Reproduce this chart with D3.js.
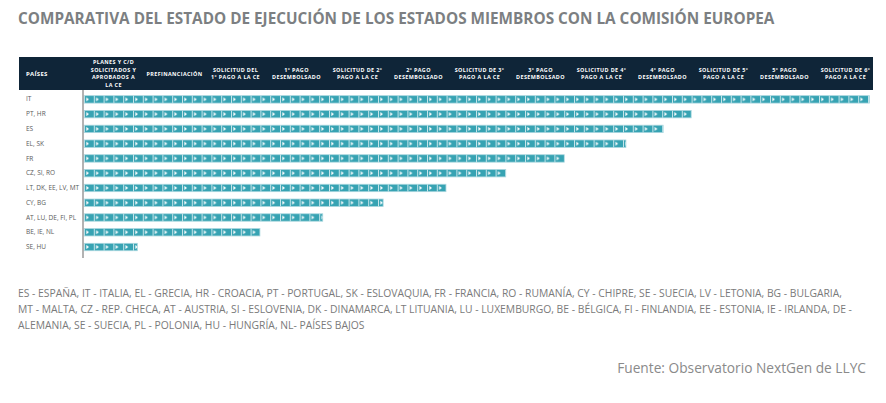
<!DOCTYPE html>
<html lang="es">
<head>
<meta charset="UTF-8">
<title>Comparativa estado de ejecución</title>
<script src="https://d3js.org/d3.v7.min.js"></script>
<style>
  body { margin: 0; background: #fff; }
  svg { display: block; font-family: "Open Sans", sans-serif; }
</style>
</head>
<body>
<script>
// Data
const countries = ["IT", "PT, HR", "ES", "EL, SK", "FR", "CZ, SI, RO", "LT, DK, EE, LV, MT",
                   "CY, BG", "AT, LU, DE, FI, PL", "BE, IE, NL", "SE, HU"];
// progress measured in stages (columns) reached
const progress = [12.89, 9.97, 9.51, 8.9, 7.89, 6.93, 5.95, 4.92, 3.93, 2.9, 0.89];
const stages = [
  ["PLANES Y C/D", "SOLICITADOS Y", "APROBADOS  A", "LA CE"],
  ["PREFINANCIACIÓN"],
  ["SOLICITUD DEL", "1º PAGO A LA CE"],
  ["1º PAGO", "DESEMBOLSADO"],
  ["SOLICITUD DE 2º", "PAGO A LA CE"],
  ["2º PAGO", "DESEMBOLSADO"],
  ["SOLICITUD DE 3º", "PAGO A LA CE"],
  ["3º PAGO", "DESEMBOLSADO"],
  ["SOLICITUD DE 4º", "PAGO A LA CE"],
  ["4º PAGO", "DESEMBOLSADO"],
  ["SOLICITUD DE 5º", "PAGO A LA CE"],
  ["5º PAGO", "DESEMBOLSADO"],
  ["SOLICITUD DE 6º", "PAGO A LA CE"]
];
const title = "COMPARATIVA DEL ESTADO DE EJECUCIÓN DE LOS ESTADOS MIEMBROS CON LA COMISIÓN EUROPEA";
const notes = [
  "ES - ESPAÑA, IT - ITALIA, EL - GRECIA, HR - CROACIA, PT - PORTUGAL, SK - ESLOVAQUIA, FR - FRANCIA, RO - RUMANÍA, CY - CHIPRE, SE - SUECIA, LV - LETONIA, BG - BULGARIA,",
  "MT - MALTA, CZ - REP. CHECA, AT - AUSTRIA, SI - ESLOVENIA, DK - DINAMARCA, LT LITUANIA, LU - LUXEMBURGO, BE - BÉLGICA, FI - FINLANDIA, EE - ESTONIA, IE - IRLANDA, DE -",
  "ALEMANIA, SE - SUECIA, PL - POLONIA, HU - HUNGRÍA, NL- PAÍSES BAJOS"
];
const source = "Fuente: Observatorio NextGen de LLYC";

const W = 886, H = 403;
const teal = "#37a3b3";

const svg = d3.select("body").append("svg")
    .attr("width", W)
    .attr("height", H);

// scales
const x = d3.scaleLinear().domain([0, stages.length]).range([83, 876]);
const y = d3.scaleBand().domain(countries).range([92, 254.4]);
const barH = 7.4;
const segW = 9.8;

// segment pattern (chevron blocks)
const defs = svg.append("defs");
const pat = defs.append("pattern")
    .attr("id", "seg")
    .attr("patternUnits", "userSpaceOnUse")
    .attr("x", x(0) + 1)
    .attr("y", 0)
    .attr("width", segW)
    .attr("height", barH);
pat.append("rect").attr("width", segW).attr("height", barH).attr("fill", teal);
pat.append("rect").attr("width", 1).attr("height", barH).attr("fill", "#c6e6eb");
pat.append("path").attr("d", "M2.3,1.6 L2.3,5.8 L4.9,3.7 Z").attr("fill", "#fff");

// title
const t = svg.append("text")
    .attr("x", 18).attr("y", 24)
    .attr("fill", "#7c7f82")
    .attr("font-size", 14)
    .attr("font-weight", "bold")
    .text(title);
t.attr("font-size", 14 * 757 / t.node().getComputedTextLength());

// header band
svg.append("rect")
    .attr("x", 19).attr("y", 57)
    .attr("width", 854).attr("height", 33)
    .attr("fill", "#0f2538");

svg.append("text")
    .attr("x", 26).attr("y", 76)
    .attr("fill", "#fff")
    .attr("font-size", 6)
    .attr("font-weight", "bold")
    .attr("letter-spacing", 0.3)
    .text("PAÍSES");

const lineH = 7.4;
svg.append("g").selectAll("text")
  .data(stages)
  .join("text")
    .attr("x", (d, i) => x(i + 0.5))
    .attr("y", d => 73.5 - (d.length - 1) * lineH / 2 + 2)
    .attr("text-anchor", "middle")
    .attr("fill", "#fff")
    .attr("font-size", 5.4)
    .attr("font-weight", "bold")
    .attr("letter-spacing", 0.4)
  .selectAll("tspan")
  .data(d => d)
  .join("tspan")
    .attr("x", function() { return this.parentNode.getAttribute("x"); })
    .attr("dy", (d, i) => i === 0 ? 0 : lineH)
    .text(d => d);

// bars
const bars = svg.append("g").selectAll("g")
  .data(countries)
  .join("g")
    .attr("transform", d => `translate(0,${y(d) + y.bandwidth() / 2 - barH / 2})`);

bars.append("rect")
    .attr("x", x(0) + 1)
    .attr("y", 0)
    .attr("width", (d, i) => x(progress[i]) - x(0) - 1)
    .attr("height", barH)
    .attr("fill", "url(#seg)")
    .attr("stroke", "#a8d6de")
    .attr("stroke-width", 0.8);

// axis with country labels
const axis = svg.append("g")
    .attr("transform", `translate(${x(0)},0)`)
    .call(d3.axisLeft(y).tickSize(0).tickSizeOuter(0));
axis.select(".domain")
    .attr("stroke", "#9a9a9a")
    .attr("stroke-width", 1.5)
    .attr("d", "M0,90V258");
axis.selectAll(".tick text")
    .attr("x", 26 - x(0))
    .attr("text-anchor", "start")
    .attr("fill", "#5a5a5a")
    .attr("font-family", "Open Sans, sans-serif")
    .attr("font-size", 6.5);

// country key
const nt = svg.append("g").selectAll("text")
  .data(notes)
  .join("text")
    .attr("x", 18)
    .attr("y", (d, i) => 297 + i * 16)
    .attr("fill", "#7a7a7a")
    .attr("font-size", 10)
    .text(d => d);
const fs = 10 * 825 / nt.nodes()[0].getComputedTextLength();
nt.attr("font-size", fs);

// source
const s = svg.append("text")
    .attr("x", 866).attr("y", 373)
    .attr("text-anchor", "end")
    .attr("fill", "#8a8a8a")
    .attr("font-size", 14)
    .text(source);
s.attr("font-size", 14 * 249 / s.node().getComputedTextLength());
</script>
</body>
</html>
